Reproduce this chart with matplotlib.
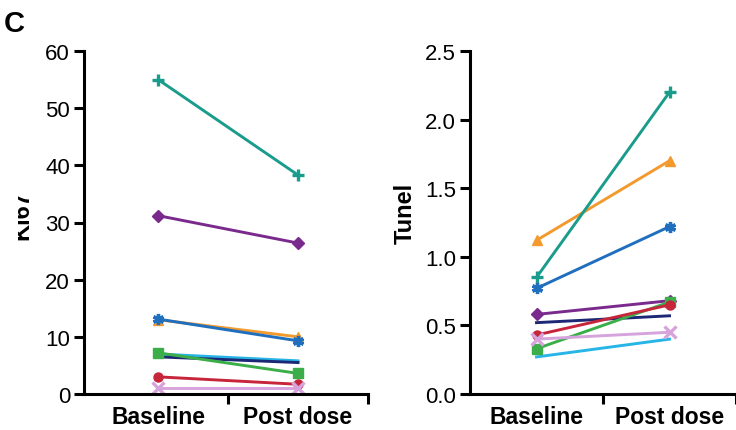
import matplotlib
matplotlib.use("Agg")
from matplotlib import pyplot as plt
from matplotlib.transforms import Bbox

plt.rcParams["font.family"] = ["Liberation Sans", "DejaVu Sans"]

timepoints = ["Baseline", "Post dose"]

# one entry per patient: (colour, marker)
patients = [
    ("#f39a2e", "^"),   # orange
    ("#1a9c8c", "+"),   # teal
    ("#7a2a8c", "D"),   # purple
    ("#1f6fbe", (6, 2, 0)),  # blue asterisk
    ("#26b5e6", None),  # light blue
    ("#1c2775", None),  # navy
    ("#3bae4a", "s"),   # green
    ("#c6253a", "o"),   # red
    ("#d7a3dc", "x"),   # pink
]

ki67_baseline = [13.0, 55.0, 31.2, 13.1, 7.0, 6.5, 7.2, 3.0, 1.0]
ki67_post = [10.0, 38.3, 26.4, 9.3, 5.8, 5.5, 3.6, 1.7, 1.0]

tunel_baseline = [1.12, 0.85, 0.58, 0.77, 0.27, 0.52, 0.33, 0.43, 0.40]
tunel_post = [1.70, 2.20, 0.68, 1.22, 0.40, 0.57, 0.67, 0.65, 0.45]

fig = plt.figure(figsize=(7.36, 4.31), dpi=100)
ax1 = fig.add_axes([84 / 736, 36 / 431, 284 / 736, 343 / 431])
ax2 = fig.add_axes([470 / 736, 36 / 431, 266 / 736, 343 / 431])


def draw_panel(ax, before, after, ylim, yticks, fmt):
    xs = [0, 1]
    for (color, marker), b, a in zip(patients, before, after):
        thin = marker in ("+", "x") or isinstance(marker, tuple)
        ms = 8 if thin else 6.5
        mew = 2.4 if thin else 1
        ax.plot(xs, [b, a], color=color, lw=2.1, marker=marker,
                ms=ms, mew=mew, clip_on=False)
    ax.set_ylim(*ylim)
    ax.set_yticks(yticks)
    ax.set_yticklabels([fmt.format(v) for v in yticks], fontsize=16)
    ax.set_xticks([0.5, 1.5])
    ax.set_xticklabels([])
    # category names sit just above the bottom edge of the figure
    for i, name in enumerate(timepoints):
        x_fig = fig.transFigure.inverted().transform(ax.transData.transform((i, 0)))[0]
        fig.text(x_fig, 1.5 / 431, name, ha="center", va="bottom",
                 fontsize=16.5, fontweight="bold")
    for side in ("top", "right"):
        ax.spines[side].set_visible(False)
    for side in ("left", "bottom"):
        ax.spines[side].set_linewidth(2.2)
    ax.tick_params(width=2.2, length=7, direction="out", pad=3)


ax1.set_xlim(-0.53, 1.5)
ax2.set_xlim(-0.5, 1.5)
draw_panel(ax1, ki67_baseline, ki67_post, (0, 60), [0, 10, 20, 30, 40, 50, 60], "{:.0f}")
draw_panel(ax2, tunel_baseline, tunel_post, (0, 2.5), [0, 0.5, 1.0, 1.5, 2.0, 2.5], "{:.1f}")
ax1.set_xlim(-0.53, 1.5)
ax2.set_xlim(-0.5, 1.5)

lab = fig.text(33 / 736, 1 - 215 / 431, "Ki67", rotation=90, ha="right", va="center",
               fontsize=17, fontweight="bold")
lab.set_clip_box(Bbox.from_extents(18, 0, 736, 431))
lab.set_clip_on(True)
fig.text(417 / 736, 1 - 213 / 431, "Tunel", rotation=90, ha="right", va="center",
         fontsize=17, fontweight="bold")
fig.text(4 / 736, 1 - 10 / 431, "C", ha="left", va="top", fontsize=21, fontweight="bold")

fig.savefig("out.png", dpi=100)
